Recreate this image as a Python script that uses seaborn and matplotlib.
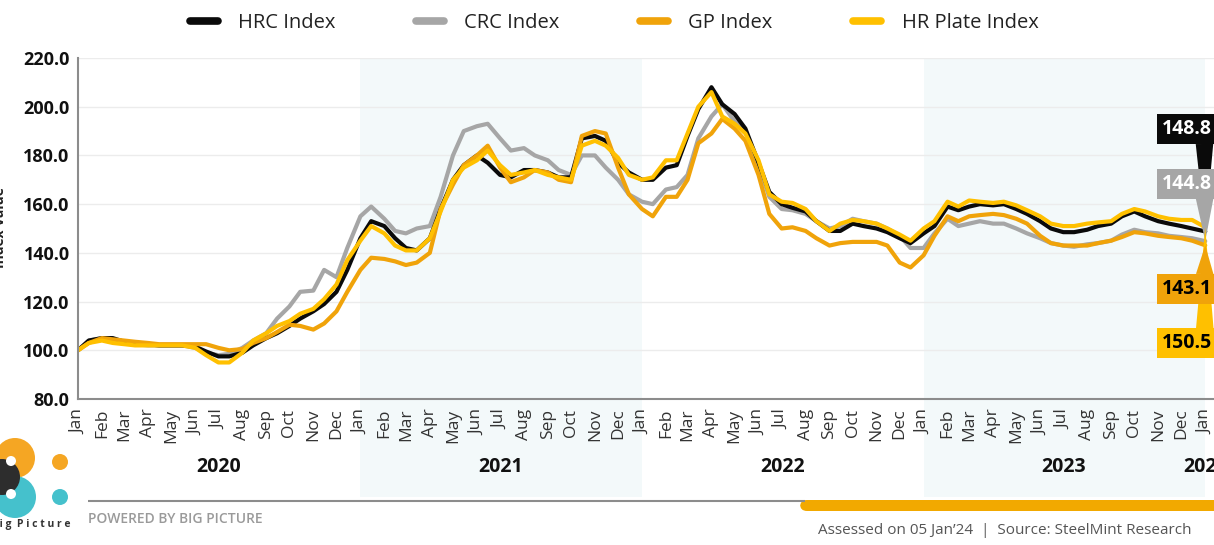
import numpy as np
import pandas as pd
import matplotlib
matplotlib.use("Agg")
import matplotlib.pyplot as plt
import matplotlib.dates as mdates
import matplotlib.transforms as mtrans
from matplotlib.lines import Line2D
from matplotlib.patches import Circle, Ellipse, FancyBboxPatch
import seaborn as sns

# ── Data (semi-monthly readings, base Jan 2020 = 100) ────────────
dates = pd.date_range("2020-01-01", "2024-01-01", freq="SMS")

hrc = [100, 104, 105, 105, 103.5, 103, 102.5, 102, 102, 102, 101.5, 99.5,
       97.5, 97.5, 99, 102, 105, 107, 110, 113, 116, 119, 124, 133,
       146, 153, 151, 146, 142, 141, 146, 158, 170, 176, 180, 177,
       172, 171, 174, 174, 173, 171, 171, 187, 188, 186, 177, 173,
       170, 170, 175, 176, 188, 199, 208, 201, 197, 191, 177, 165,
       160, 158.5, 157, 153, 149, 149, 152, 151, 150, 148.5, 146, 144,
       148, 151, 159, 157.5, 159, 160, 159.5, 160, 158, 156, 153, 150,
       148.5, 148.5, 149.5, 151, 152, 155, 157, 155, 153, 152, 151, 150,
       148.8]

crc = [100, 104, 105, 104, 103, 102.5, 102, 102, 102, 102, 101, 99,
       98, 98.5, 101, 104, 107, 113, 118, 124, 124.5, 133, 130, 142,
       155, 159, 154, 149, 148, 150, 151, 163, 180, 190, 192, 193,
       187, 182, 183, 180, 178, 174, 172, 180, 180, 175, 170, 164,
       161, 160, 166, 167, 172, 187, 196, 201, 194, 190, 176, 163,
       158, 157.5, 156, 153, 150, 151, 154, 153, 152, 150, 147, 142,
       142, 148, 154, 151, 152, 153, 152, 152, 150, 148, 146, 144,
       143, 142.5, 143.5, 144, 145, 147.5, 149.5, 148.5, 148, 147, 146.5, 146,
       144.8]

gp = [100, 103, 105, 104.5, 104, 103.5, 103, 102.5, 102.5, 102.5, 102.5, 102.5,
      101, 100, 100.5, 103, 105, 107.5, 110.5, 110, 108.5, 111, 116, 124,
      133, 138, 137.5, 136.5, 135, 136, 140, 158, 168, 176, 180, 184,
      175, 169, 171, 174, 173, 170, 169, 188, 190, 189, 175, 164,
      158, 155, 163, 163, 170, 185, 189, 195, 191, 186, 172, 156,
      150, 150.5, 149, 146, 143, 144, 144.5, 144.5, 144.5, 143, 136, 134,
      139, 147, 155, 153, 155, 155.5, 156, 155.5, 154, 152, 147, 144,
      143, 143, 143, 144, 145, 146.5, 148.5, 148, 147, 146.5, 146, 145,
      143.1]

hrp = [100, 103, 104, 103, 102.5, 102, 102, 102, 102, 102, 101, 98,
       95, 95, 99, 104, 107, 110, 112, 115, 117, 121, 127, 137,
       145, 151, 148, 143, 141, 141, 146, 157, 170, 175, 178, 182,
       176, 172, 173, 174, 172, 171, 170, 184, 186, 184, 179, 172,
       170, 171, 178, 178, 189, 200, 206, 196, 193, 189, 178, 164,
       161, 160.5, 158, 153, 149, 152, 153.5, 153, 152, 150, 147.5, 145,
       150, 153, 161, 159, 161.5, 161, 160.5, 161, 159.5, 157.5, 155, 152,
       151, 151, 152, 152.5, 153, 156, 158, 157, 155, 154, 153.5, 153.5,
       150.5]

series_names = ["CRC Index", "HRC Index", "GP Index", "HR Plate Index"]
series_vals = [crc, hrc, gp, hrp]
legend_order = ["HRC Index", "CRC Index", "GP Index", "HR Plate Index"]
colors = {"HRC Index": "#0a0a0a", "CRC Index": "#a6a6a6",
          "GP Index": "#f0a30a", "HR Plate Index": "#ffc000"}

# end labels: series, y position of the box (value units), text colour
end_labels = [("HRC Index", 190.8, "white"),
              ("CRC Index", 168.3, "white"),
              ("HR Plate Index", 103.0, "black"),
              ("GP Index", 125.2, "black")]
shaded_years = [2021, 2023]

df = pd.concat([pd.DataFrame({"date": dates, "value": v, "series": n})
                for n, v in zip(series_names, series_vals)],
               ignore_index=True)

# ── Figure ───────────────────────────────────────────────────────
sns.set_style("white")
plt.rcParams["font.family"] = ["Open Sans", "DejaVu Sans"]

W, H = 1214, 545
fig = plt.figure(figsize=(W / 100, H / 100), dpi=100)
fig.patch.set_facecolor("white")
ax = fig.add_axes([78 / W, 1 - 399 / H, (1250 - 78) / W, 341 / H])
ax.patch.set_alpha(0)

for yr in shaded_years:
    ax.axvspan(pd.Timestamp(f"{yr}-01-01"), pd.Timestamp(f"{yr + 1}-01-01"),
               ymin=-0.287, ymax=1, color="#f3f9fa", lw=0, zorder=0,
               clip_on=False)

sns.lineplot(data=df, x="date", y="value", hue="series",
             hue_order=series_names, palette=colors, linewidth=3,
             legend=False, ax=ax)
for ln in ax.lines:
    ln.set_solid_joinstyle("round")

ax.set_xlim(pd.Timestamp("2020-01-01"), pd.Timestamp("2024-02-28"))
ax.set_ylim(80, 220)
ax.set_yticks(np.arange(80, 221, 20))
ax.yaxis.set_major_formatter(plt.FormatStrFormatter("%.1f"))
ax.xaxis.set_major_locator(mdates.MonthLocator())
ax.xaxis.set_major_formatter(mdates.DateFormatter("%b"))
ax.set_xlabel("")
ax.set_ylabel("")

ax.yaxis.grid(True, color="#ececec", lw=1)
ax.set_axisbelow(True)
for s in ["top", "right"]:
    ax.spines[s].set_visible(False)
for s in ["left", "bottom"]:
    ax.spines[s].set_color("#8c8c8c")
    ax.spines[s].set_linewidth(1.5)
ax.tick_params(axis="x", direction="out", length=5, width=1.2,
               color="#8c8c8c", labelsize=12.5, labelcolor="#333333",
               labelrotation=90, pad=2)
ax.tick_params(axis="y", length=0, labelsize=13, pad=6)
for t in ax.get_yticklabels():
    t.set_fontweight("bold")
    t.set_color("#111111")

# year labels under the month ticks
trans = mtrans.blended_transform_factory(ax.transData, ax.transAxes)
last = dates[-1]
for yr in range(2020, 2025):
    start = pd.Timestamp(f"{yr}-01-01")
    end = min(pd.Timestamp(f"{yr}-12-31"), last)
    ax.text(start + (end - start) / 2, -0.2, str(yr), transform=trans,
            ha="center", va="center", fontsize=14, fontweight="bold",
            color="#111111", clip_on=False)

# end-value callouts
lookup = dict(zip(series_names, series_vals))
for name, ty, tc in end_labels:
    v = lookup[name][-1]
    below = ty > v
    ax.annotate(f"{v:.1f}", xy=(dates[-1], v),
                xytext=(pd.Timestamp("2023-11-06"), ty),
                ha="left", va="center", fontsize=14, fontweight="bold",
                color=tc, zorder=6,
                bbox=dict(boxstyle="square,pad=0.25", fc=colors[name],
                          ec="none"),
                arrowprops=dict(arrowstyle="wedge,tail_width=0.9",
                                fc=colors[name], ec="none",
                                shrinkA=0, shrinkB=0,
                                relpos=(0.85, 0.0 if below else 1.0)))

fig.text(0.0, 1 - 228 / H, "Index Value", rotation=90, ha="center",
         va="center", fontsize=10, fontweight="bold", color="#222222")

handles = [Line2D([0], [0], color=colors[n], lw=5.5, solid_capstyle="round")
           for n in legend_order]
fig.legend(handles, legend_order, loc="center",
           bbox_to_anchor=(614 / W, 1 - 23 / H), ncol=4, frameon=False,
           fontsize=14.5, handlelength=1.4, handletextpad=1.0,
           columnspacing=4.0, labelcolor="#222222")

# ── Footer / branding ────────────────────────────────────────────
ov = fig.add_axes([0, 0, 1, 1], zorder=5)
ov.set_xlim(0, W)
ov.set_ylim(H, 0)
ov.axis("off")
ov.patch.set_alpha(0)

ov.plot([88, 805], [501, 501], color="#8c8c8c", lw=1.5,
        solid_capstyle="butt")
ov.add_patch(FancyBboxPatch((800, 500), 440, 11,
                            boxstyle="round,pad=0,rounding_size=7",
                            fc="#f2a900", ec="none"))
ov.text(88, 519, "POWERED BY BIG PICTURE", fontsize=10, color="#9a9a9a",
        va="center", fontweight="semibold")
ov.text(818, 531, "Assessed on 05 Jan\u201924  |  Source: SteelMint Research",
        fontsize=11, color="#555555", va="center")

ov.add_patch(Circle((15, 458), 20, fc="#f5a623", ec="none"))
ov.add_patch(Circle((15, 497), 21, fc="#45c1cc", ec="none"))
ov.add_patch(Ellipse((2, 477), 36, 36, fc="#2d2d2d", ec="none"))
ov.add_patch(Circle((11, 461), 5, fc="white", ec="none"))
ov.add_patch(Circle((11, 494), 5, fc="white", ec="none"))
ov.add_patch(Circle((60, 462), 8, fc="#f5a623", ec="none"))
ov.add_patch(Circle((60, 497), 8, fc="#45c1cc", ec="none"))
ov.text(70, 525, "B i g  P i c t u r e", ha="right", va="center",
        fontsize=7.5, fontweight="bold", color="#333333")

fig.savefig("out.png", dpi=100)
plt.close(fig)
